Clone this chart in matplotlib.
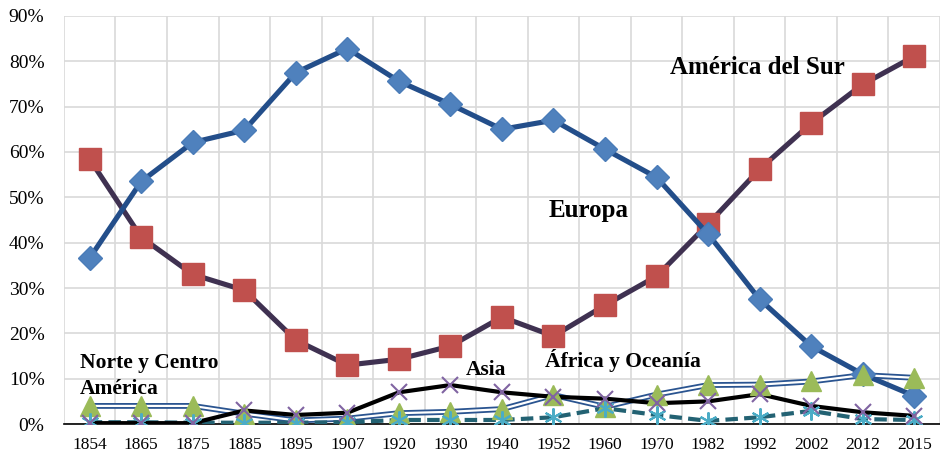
import matplotlib.pyplot as plt
from matplotlib.ticker import PercentFormatter

years = ["1854", "1865", "1875", "1885", "1895", "1907", "1920", "1930", "1940",
         "1952", "1960", "1970", "1982", "1992", "2002", "2012", "2015"]

# porcentajes por región de origen
europa = [36.6, 53.5, 62.1, 64.8, 77.5, 82.8, 75.6, 70.5, 65.0, 67.0, 60.6, 54.4,
          41.9, 27.5, 17.2, 11.0, 6.2]
america_sur = [58.4, 41.2, 33.0, 29.5, 18.5, 13.0, 14.3, 17.2, 23.6, 19.4, 26.2, 32.6,
               44.1, 56.2, 66.3, 74.9, 81.1]
norte_centro = [4.0, 4.0, 4.0, 2.3, 0.8, 1.2, 2.4, 2.7, 3.3, 6.4, 3.8, 6.5,
                8.6, 8.7, 9.4, 10.8, 10.2]
asia = [0.2, 0.2, 0.2, 3.0, 2.0, 2.5, 7.0, 8.6, 7.0, 6.0, 5.6, 4.6,
        5.0, 6.6, 4.0, 2.6, 1.8]
africa_oceania = [0.4, 0.4, 0.3, 0.3, 0.3, 0.4, 0.9, 0.9, 0.9, 1.5, 3.5, 2.0,
                  0.7, 1.5, 2.9, 1.1, 0.9]

plt.rcParams['font.family'] = ['Liberation Serif', 'DejaVu Serif']

fig = plt.figure(figsize=(9.4, 4.55), dpi=100)
ax = fig.add_axes([0.068, 0.068, 0.932, 0.897])

# Norte y Centro América: línea doble
ax.plot(years, norte_centro, color='#2A5490', lw=4.2, zorder=3, solid_capstyle='butt')
ax.plot(years, norte_centro, color='white', lw=1.6, zorder=3.1)
ax.plot(years, norte_centro, ls='none', marker='^', ms=15, mfc='#9BBB59',
        mec='#9BBB59', zorder=6)

# África y Oceanía
ax.plot(years, africa_oceania, color='#236273', lw=3, ls=(0, (3, 1.5)), zorder=4)
ax.plot(years, africa_oceania, ls='none', marker=(6, 2, 0), ms=13, mec='#4BACC6',
        mew=1.5, zorder=7)

# Asia
ax.plot(years, asia, color='black', lw=3, zorder=4.5)
ax.plot(years, asia, ls='none', marker='x', ms=11, mec='#8064A2', mew=1.5, zorder=7)

# América del Sur
ax.plot(years, america_sur, color='#3F3151', lw=3.7, marker='s', ms=15.5,
        mfc='#C0504D', mec='#C0504D', zorder=5)

# Europa
ax.plot(years, europa, color='#234E8A', lw=3.7, marker='D', ms=12,
        mfc='#4F81BD', mec='#4A7CB8', zorder=5.5)

ax.set_ylim(0, 90)
ax.set_xlim(-0.5, 16.35)
ax.set_yticks(range(0, 91, 10))
ax.yaxis.set_major_formatter(PercentFormatter(decimals=0))

ax.set_xticks([i - 0.5 for i in range(18)], minor=True)
ax.grid(True, which='minor', axis='x', color='#D9D9D9', lw=1.2)
ax.grid(True, which='major', axis='y', color='#D9D9D9', lw=1.2)
ax.set_axisbelow(True)

for s in ['top', 'right', 'left']:
    ax.spines[s].set_visible(False)
ax.spines['bottom'].set_color('black')
ax.spines['bottom'].set_linewidth(1.2)
ax.spines['bottom'].set_zorder(2)

ax.tick_params(axis='both', which='both', length=0)
ax.tick_params(axis='x', labelsize=12.5, pad=9)
ax.tick_params(axis='y', labelsize=14, pad=14)

big = dict(fontsize=18, fontweight='bold', color='black', ha='left', va='center')
small = dict(fontsize=15.5, fontweight='bold', color='black', ha='left', va='baseline')
ax.text(11.27, 78.7, "América del Sur", **big)
ax.text(8.9, 47.2, "Europa", **big)
ax.text(-0.19, 12.3, "Norte y Centro", **small)
ax.text(-0.19, 6.6, "América", **small)
ax.text(7.29, 10.8, "Asia", **small)
ax.text(8.83, 12.55, "África y Oceanía", **small)

fig.savefig('out.png', dpi=100)
